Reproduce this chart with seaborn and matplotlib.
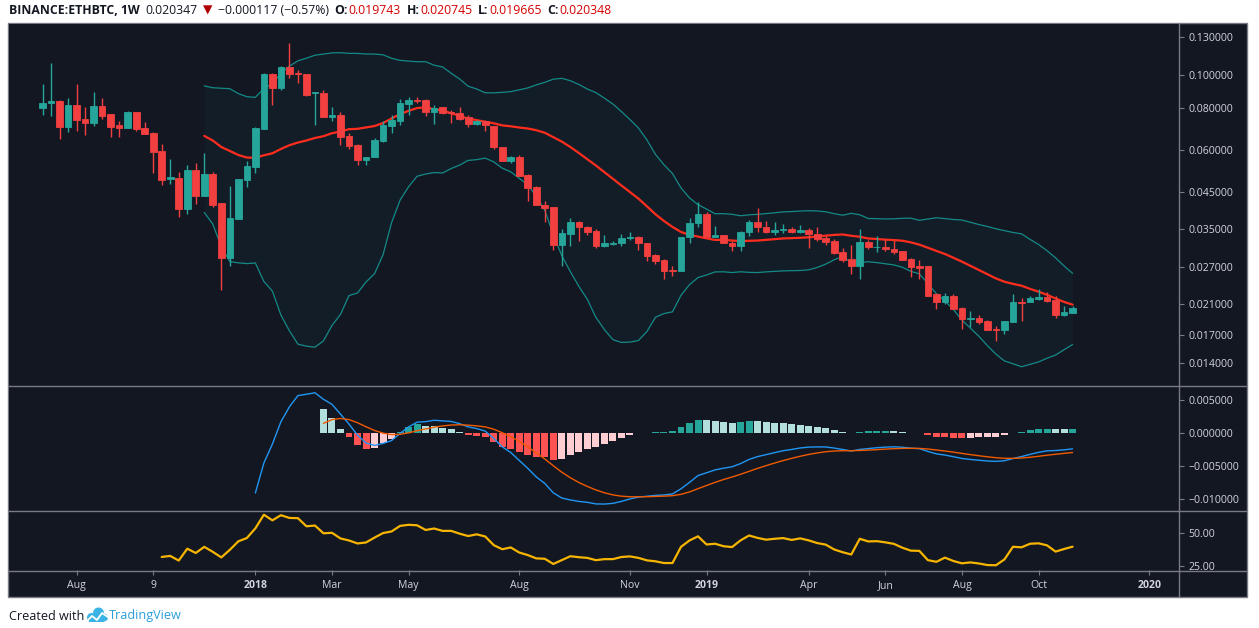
"""ETHBTC weekly chart (Binance) with Bollinger Bands, MACD and RSI, TradingView dark style."""

import numpy as np
import pandas as pd
import matplotlib
matplotlib.use("Agg")
import matplotlib.pyplot as plt
import matplotlib.ticker as mticker
from matplotlib.lines import Line2D
from matplotlib.patches import Rectangle, Ellipse
from matplotlib.offsetbox import TextArea, HPacker, AnchoredOffsetbox
import seaborn as sns


# ---------------------------------------------------------------------------
# Data (weekly candles)
# ---------------------------------------------------------------------------

first_week = "2017-07-10"

opens = [
    0.0800, 0.0826, 0.0839, 0.0704, 0.0817, 0.0742, 0.0724, 0.0811, 0.0768, 0.0712,
    0.0699, 0.0778, 0.0697, 0.0674, 0.0597, 0.0493, 0.0496, 0.0402, 0.0524, 0.0440,
    0.0510, 0.0417, 0.0287, 0.0375, 0.0490, 0.0536, 0.0694, 0.1011, 0.0918, 0.1057,
    0.1016, 0.1011, 0.0885, 0.0887, 0.0754, 0.0763, 0.0663, 0.0621, 0.0559, 0.0571,
    0.0638, 0.0707, 0.0734, 0.0824, 0.0845, 0.0845, 0.0778, 0.0804, 0.0778, 0.0776,
    0.0750, 0.0716, 0.0733, 0.0706, 0.0614, 0.0557, 0.0572, 0.0505, 0.0466, 0.0413,
    0.0407, 0.0314, 0.0339, 0.0368, 0.0355, 0.0345, 0.0312, 0.0316, 0.0317, 0.0328,
    0.0332, 0.0318, 0.0293, 0.0283, 0.0264, 0.0263, 0.0331, 0.0364, 0.0388, 0.0331,
    0.0335, 0.0318, 0.0312, 0.0342, 0.0368, 0.0355, 0.0344, 0.0347, 0.0351, 0.0342,
    0.0348, 0.0338, 0.0329, 0.0322, 0.0299, 0.0285, 0.0271, 0.0321, 0.0309, 0.0310,
    0.0305, 0.0301, 0.0285, 0.0271, 0.0271, 0.0224, 0.0212, 0.0222, 0.0204, 0.0189,
    0.0191, 0.0186, 0.0177, 0.0175, 0.0185, 0.0212, 0.0212, 0.0217, 0.0220, 0.0215,
    0.0194, 0.019743,
]
highs = [
    0.0941, 0.1085, 0.0845, 0.0856, 0.0941, 0.0806, 0.0893, 0.0856, 0.0768, 0.0732,
    0.0786, 0.0778, 0.0727, 0.0678, 0.0625, 0.0565, 0.0517, 0.0542, 0.0550, 0.0590,
    0.0517, 0.0417, 0.0469, 0.0492, 0.0557, 0.0704, 0.1019, 0.1019, 0.1064, 0.1250,
    0.1041, 0.1011, 0.0895, 0.0904, 0.0804, 0.0778, 0.0673, 0.0625, 0.0573, 0.0652,
    0.0732, 0.0763, 0.0851, 0.0863, 0.0863, 0.0851, 0.0815, 0.0804, 0.0791, 0.0804,
    0.0765, 0.0737, 0.0737, 0.0709, 0.0614, 0.0578, 0.0581, 0.0509, 0.0470, 0.0425,
    0.0407, 0.0350, 0.0378, 0.0370, 0.0358, 0.0349, 0.0336, 0.0323, 0.0338, 0.0344,
    0.0334, 0.0318, 0.0295, 0.0286, 0.0271, 0.0332, 0.0378, 0.0422, 0.0392, 0.0358,
    0.0336, 0.0322, 0.0346, 0.0372, 0.0405, 0.0370, 0.0366, 0.0362, 0.0356, 0.0359,
    0.0353, 0.0356, 0.0336, 0.0326, 0.0308, 0.0314, 0.0349, 0.0325, 0.0333, 0.0327,
    0.0325, 0.0302, 0.0288, 0.0284, 0.0272, 0.0226, 0.0226, 0.0224, 0.0206, 0.0200,
    0.0194, 0.0188, 0.0180, 0.0186, 0.0224, 0.0218, 0.0222, 0.0233, 0.0228, 0.0221,
    0.0207, 0.020745,
]
lows = [
    0.0763, 0.0759, 0.0649, 0.0681, 0.0685, 0.0667, 0.0709, 0.0744, 0.0658, 0.0658,
    0.0699, 0.0685, 0.0671, 0.0514, 0.0474, 0.0477, 0.0379, 0.0389, 0.0414, 0.0440,
    0.0408, 0.0230, 0.0271, 0.0375, 0.0467, 0.0514, 0.0694, 0.0819, 0.0908, 0.0980,
    0.0952, 0.0869, 0.0714, 0.0754, 0.0734, 0.0621, 0.0604, 0.0542, 0.0542, 0.0571,
    0.0636, 0.0673, 0.0714, 0.0763, 0.0829, 0.0759, 0.0717, 0.0766, 0.0722, 0.0735,
    0.0703, 0.0711, 0.0684, 0.0603, 0.0557, 0.0549, 0.0502, 0.0425, 0.0411, 0.0368,
    0.0303, 0.0271, 0.0312, 0.0323, 0.0336, 0.0307, 0.0309, 0.0313, 0.0312, 0.0325,
    0.0303, 0.0281, 0.0276, 0.0249, 0.0253, 0.0263, 0.0317, 0.0356, 0.0331, 0.0331,
    0.0317, 0.0302, 0.0301, 0.0333, 0.0342, 0.0340, 0.0336, 0.0341, 0.0340, 0.0340,
    0.0307, 0.0322, 0.0314, 0.0295, 0.0280, 0.0257, 0.0249, 0.0305, 0.0299, 0.0302,
    0.0296, 0.0283, 0.0252, 0.0248, 0.0221, 0.0202, 0.0209, 0.0202, 0.0177, 0.0179,
    0.0183, 0.0175, 0.0163, 0.0171, 0.0185, 0.0186, 0.0212, 0.0216, 0.0213, 0.0191,
    0.0193, 0.019665,
]
closes = [
    0.0827, 0.0839, 0.0704, 0.0817, 0.0739, 0.0724, 0.0811, 0.0759, 0.0704, 0.0699,
    0.0778, 0.0694, 0.0671, 0.0594, 0.0490, 0.0500, 0.0402, 0.0524, 0.0440, 0.0510,
    0.0413, 0.0287, 0.0377, 0.0492, 0.0540, 0.0699, 0.1011, 0.0918, 0.1057, 0.1012,
    0.1008, 0.0875, 0.0891, 0.0754, 0.0763, 0.0658, 0.0618, 0.0559, 0.0573, 0.0643,
    0.0712, 0.0737, 0.0827, 0.0845, 0.0839, 0.0781, 0.0801, 0.0773, 0.0773, 0.0742,
    0.0716, 0.0733, 0.0711, 0.0612, 0.0557, 0.0572, 0.0502, 0.0464, 0.0411, 0.0405,
    0.0314, 0.0341, 0.0368, 0.0354, 0.0344, 0.0312, 0.0318, 0.0318, 0.0329, 0.0332,
    0.0317, 0.0291, 0.0281, 0.0263, 0.0263, 0.0332, 0.0365, 0.0388, 0.0331, 0.0335,
    0.0317, 0.0311, 0.0343, 0.0368, 0.0354, 0.0344, 0.0348, 0.0351, 0.0342, 0.0348,
    0.0339, 0.0327, 0.0320, 0.0297, 0.0283, 0.0271, 0.0321, 0.0309, 0.0310, 0.0305,
    0.0299, 0.0283, 0.0270, 0.0269, 0.0222, 0.0212, 0.0222, 0.0203, 0.0189, 0.0191,
    0.0185, 0.0176, 0.0175, 0.0186, 0.0213, 0.0211, 0.0219, 0.0220, 0.0214, 0.0194,
    0.0199, 0.020348,
]

last_price = "0.020347"
last_change = "\u22120.000117 (\u22120.57%)"

price_ticks = [0.014, 0.017, 0.021, 0.027, 0.035, 0.045, 0.060, 0.080, 0.100, 0.130]
macd_ticks = [0.005, 0.0, -0.005, -0.010]
rsi_ticks = [50, 25]

time_tick_dates = [
    "2017-08-07", "2017-10-09", "2018-01-01", "2018-03-05", "2018-05-07", "2018-08-06",
    "2018-11-05", "2019-01-07", "2019-04-01", "2019-06-03", "2019-08-05", "2019-10-07",
    "2020-01-06",
]
time_tick_labels = ["Aug", "9", "2018", "Mar", "May", "Aug", "Nov", "2019", "Apr", "Jun",
                    "Aug", "Oct", "2020"]

# ---------------------------------------------------------------------------
# Style
# ---------------------------------------------------------------------------

BG = "#131722"
SEP = "#787b86"
TXT = "#d1d4dc"
UP = "#26a69a"
DOWN = "#f23f3f"
FONT = ["Open Sans", "DejaVu Sans"]

sns.set_theme(style="dark", rc={"axes.facecolor": BG, "figure.facecolor": "white"})
plt.rcParams["font.family"] = FONT
plt.rcParams["axes.unicode_minus"] = True

W, H = 1259, 628


def fx(px):
    return px / W


def fy(py):
    return 1 - py / H


# ---------------------------------------------------------------------------
# Indicators (TradingView definitions)
# ---------------------------------------------------------------------------

def pine_ema(values, length):
    values = np.asarray(values, dtype=float)
    out = np.full(len(values), np.nan)
    start = int(np.flatnonzero(~np.isnan(values))[0])
    seed = start + length - 1
    out[seed] = values[start:seed + 1].mean()
    alpha = 2.0 / (length + 1)
    for i in range(seed + 1, len(values)):
        out[i] = alpha * values[i] + (1 - alpha) * out[i - 1]
    return out


def pine_rsi(values, length=14):
    values = np.asarray(values, dtype=float)
    diff = np.diff(values, prepend=np.nan)
    up = np.clip(diff, 0, None)
    down = np.clip(-diff, 0, None)
    out = np.full(len(values), np.nan)
    au = up[1:length + 1].mean()
    ad = down[1:length + 1].mean()
    out[length] = 100 - 100 / (1 + au / ad)
    for i in range(length + 1, len(values)):
        au = (au * (length - 1) + up[i]) / length
        ad = (ad * (length - 1) + down[i]) / length
        out[i] = 100.0 if ad == 0 else 100 - 100 / (1 + au / ad)
    return out


df = pd.DataFrame({"open": opens, "high": highs, "low": lows, "close": closes})
df["week"] = pd.date_range(first_week, periods=len(df), freq="W-MON")
df["bar"] = np.arange(len(df))

roll = df["close"].rolling(20)
df["bb_mid"] = roll.mean()
df["bb_up"] = df["bb_mid"] + 2 * roll.std(ddof=0)
df["bb_lo"] = df["bb_mid"] - 2 * roll.std(ddof=0)

df["macd"] = pine_ema(df["close"], 12) - pine_ema(df["close"], 26)
df["signal"] = pine_ema(df["macd"], 9)
df["hist"] = df["macd"] - df["signal"]
df["rsi"] = pine_rsi(df["close"], 14)

hist_prev = df["hist"].shift(1)
hist_colors = np.where(
    df["hist"] >= 0,
    np.where(df["hist"] > hist_prev, "#26a69a", "#b2dfdb"),
    np.where(df["hist"] < hist_prev, "#ff5252", "#ffcdd2"),
)

tick_bars = [(pd.Timestamp(d) - df["week"].iloc[0]).days / 7 for d in time_tick_dates]

# ---------------------------------------------------------------------------
# Figure layout
# ---------------------------------------------------------------------------

fig = plt.figure(figsize=(W / 100, H / 100), dpi=100, facecolor="white")
fig.add_artist(Rectangle((fx(8), fy(597)), fx(1247 - 8), (597 - 23) / H,
                         transform=fig.transFigure, facecolor=BG, edgecolor=SEP,
                         linewidth=1, zorder=-5))

L, R = 9, 1179
ax_p = fig.add_axes([fx(L), fy(385), fx(R - L), (385 - 24) / H])
ax_m = fig.add_axes([fx(L), fy(510), fx(R - L), (510 - 386) / H], sharex=ax_p)
ax_r = fig.add_axes([fx(L), fy(570), fx(R - L), (570 - 511) / H], sharex=ax_p)

for y in (386, 511, 571):
    fig.add_artist(Line2D([fx(8), fx(1247)], [fy(y), fy(y)], transform=fig.transFigure,
                          color=SEP, linewidth=1))
fig.add_artist(Line2D([fx(R), fx(R)], [fy(23), fy(597)], transform=fig.transFigure,
                      color=SEP, linewidth=1))

for ax in (ax_p, ax_m, ax_r):
    ax.set_facecolor(BG)
    for s in ax.spines.values():
        s.set_visible(False)
    ax.grid(False)
    ax.tick_params(axis="y", which="both", left=False, labelleft=False, right=True,
                   labelright=True, direction="out", length=3.5, width=0.8, color=SEP,
                   labelcolor=TXT, labelsize=7.6, pad=3)
    ax.tick_params(axis="x", which="both", bottom=False, labelbottom=False)
    ax.set_xlabel("")
    ax.set_ylabel("")

# ---------------------------------------------------------------------------
# Price pane: candles + Bollinger Bands
# ---------------------------------------------------------------------------

ax_p.set_yscale("log")
ax_p.fill_between(df["bar"], df["bb_lo"], df["bb_up"], color=UP, alpha=0.045,
                  linewidth=0, zorder=1)
sns.lineplot(x=df["bar"], y=df["bb_up"], ax=ax_p, color="#138a87", linewidth=0.9, zorder=2)
sns.lineplot(x=df["bar"], y=df["bb_lo"], ax=ax_p, color="#138a87", linewidth=0.9, zorder=2)
sns.lineplot(x=df["bar"], y=df["bb_mid"], ax=ax_p, color="#ff2d1e", linewidth=1.6, zorder=2)

up = df["close"] >= df["open"]
candle_colors = np.where(up, UP, DOWN)
ax_p.vlines(df["bar"], df["low"], df["high"], colors=candle_colors, linewidth=1.0, zorder=3)
ax_p.bar(df["bar"], (df["close"] - df["open"]).abs(), bottom=df[["open", "close"]].min(axis=1),
         width=0.78, color=candle_colors, edgecolor=candle_colors, linewidth=0.6, zorder=4)

ax_p.set_ylim(0.01205, 0.1421)
ax_p.yaxis.set_major_locator(mticker.FixedLocator(price_ticks))
ax_p.yaxis.set_minor_locator(mticker.NullLocator())
ax_p.yaxis.set_major_formatter(mticker.FuncFormatter(lambda v, _: f"{v:.6f}"))
ax_p.set_ylabel("")

# ---------------------------------------------------------------------------
# MACD pane
# ---------------------------------------------------------------------------

ax_m.bar(df["bar"], df["hist"].fillna(0), width=0.82, color=hist_colors, linewidth=0, zorder=2)
sns.lineplot(x=df["bar"], y=df["macd"], ax=ax_m, color="#2196f3", linewidth=1.0, zorder=3)
sns.lineplot(x=df["bar"], y=df["signal"], ax=ax_m, color="#f05a00", linewidth=1.0, zorder=3)
ax_m.set_ylim(-0.01167, 0.00712)
ax_m.yaxis.set_major_locator(mticker.FixedLocator(macd_ticks))
ax_m.yaxis.set_major_formatter(
    mticker.FuncFormatter(lambda v, _: f"{v:.6f}".replace("-", "\u2212") if abs(v) > 1e-12
                          else "0.000000"))
ax_m.set_ylabel("")

# ---------------------------------------------------------------------------
# RSI pane
# ---------------------------------------------------------------------------

sns.lineplot(x=df["bar"], y=df["rsi"], ax=ax_r, color="#f7b500", linewidth=1.6, zorder=3)
ax_r.set_ylim(21.7, 66.8)
ax_r.yaxis.set_major_locator(mticker.FixedLocator(rsi_ticks))
ax_r.yaxis.set_major_formatter(mticker.FuncFormatter(lambda v, _: f"{v:.2f}"))
ax_r.set_ylabel("")

ax_r.set_xlim(-3.94, 133.5)
ax_r.set_xticks(tick_bars)
ax_r.set_xticklabels(time_tick_labels)
ax_r.tick_params(axis="x", bottom=True, labelbottom=True, direction="out", length=3.5,
                 width=0.8, color=SEP, labelcolor=TXT, labelsize=7.6, pad=4)
for lab in ax_r.get_xticklabels():
    if lab.get_text().startswith("20"):
        lab.set_fontweight("bold")
ax_r.set_xlabel("")

# ---------------------------------------------------------------------------
# Header and footer
# ---------------------------------------------------------------------------

HDR_RED = "#d50000"


def piece(text, color="#131722", weight="normal"):
    return TextArea(text, textprops=dict(color=color, fontsize=8.85, fontweight=weight,
                                         family=FONT))


items = [piece("BINANCE:ETHBTC, 1W", weight="bold"), piece(last_price),
         piece("\u25bc", "#b00000"), piece(last_change)]
for key, val in zip("OHLC", (opens[-1], highs[-1], lows[-1], closes[-1])):
    items.append(HPacker(children=[piece(key + ":", weight="bold"), piece(f"{val:.6f}", HDR_RED)],
                         sep=0.5, pad=0, align="baseline"))
header = AnchoredOffsetbox(loc="center left",
                           child=HPacker(children=items, sep=4, pad=0, align="baseline"),
                           pad=0, borderpad=0, frameon=False,
                           bbox_to_anchor=(fx(9), fy(10)), bbox_transform=fig.transFigure)
fig.add_artist(header)

fig.text(fx(9), fy(616), "Created with", color="#131722", fontsize=9.1, va="center", ha="left")
fig.text(fx(109), fy(616), "TradingView", color="#2a9fd8", fontsize=9.1, va="center", ha="left")
logo_blue = "#3bb3e4"
for cx, cy, r in ((91.5, 617.5, 4.5), (98.5, 613, 5.5), (104, 617.5, 4.0)):
    fig.add_artist(Ellipse((fx(cx), fy(cy)), 2 * r / W, 2 * r / H, transform=fig.transFigure,
                           color=logo_blue, linewidth=0))
fig.add_artist(Rectangle((fx(89), fy(622)), 15 / W, 5 / H, transform=fig.transFigure,
                         color=logo_blue, linewidth=0))
fig.add_artist(Line2D([fx(86), fx(92), fx(97), fx(102), fx(108)],
                      [fy(622), fy(616), fy(620), fy(613), fy(617)],
                      transform=fig.transFigure, color="white", linewidth=1.3))

fig.savefig("out.png", dpi=100, facecolor="white")
